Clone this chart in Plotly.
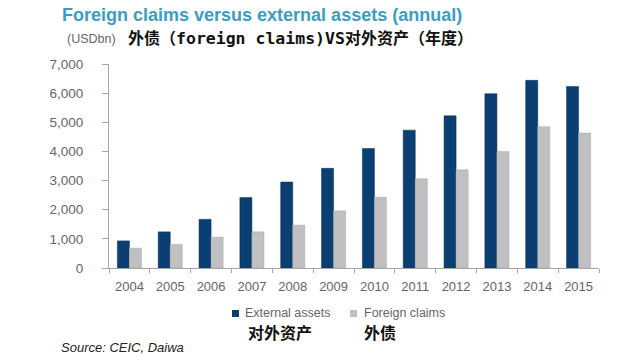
import plotly.graph_objects as go

years = ["2004", "2005", "2006", "2007", "2008", "2009", "2010", "2011", "2012", "2013", "2014", "2015"]
external_assets = [930, 1240, 1670, 2420, 2950, 3420, 4100, 4730, 5220, 5980, 6440, 6230]
foreign_claims = [680, 810, 1060, 1240, 1470, 1960, 2430, 3060, 3370, 4000, 4850, 4630]
y_ticks = [0, 1000, 2000, 3000, 4000, 5000, 6000, 7000]
series_names = ["External assets", "Foreign claims"]
series_names_cn = ["对外资产", "外债"]

FW, FH = 640, 362
L, R, T, B = 109, 599, 64, 268
W, H = R - L, B - T


def px(x):
    return (x - L) / W


def py(y):
    return (B - y) / H


BLUE = "#0B3E71"
GRAY = "#C0C0C2"
TICK = "#666666"
AXIS = "#A6A6A6"

fig = go.Figure()
fig.add_trace(go.Bar(x=years, y=external_assets, name=series_names[0],
                     marker=dict(color=BLUE, line=dict(color="#06305A", width=0.5))))
fig.add_trace(go.Bar(x=years, y=foreign_claims, name=series_names[1],
                     marker=dict(color=GRAY, line=dict(color="#A8A8AA", width=0.5))))

fig.update_layout(
    width=FW, height=FH,
    margin=dict(l=L, r=FW - R, t=T, b=FH - B, autoexpand=False),
    paper_bgcolor="white", plot_bgcolor="white",
    barmode="group", bargap=0.41, bargroupgap=0.0,
    font=dict(family="Liberation Sans, Arial, sans-serif", color=TICK, size=13),
    showlegend=False,
    xaxis=dict(showgrid=False, showline=True, linecolor=AXIS, linewidth=1,
               ticks="outside", tickson="boundaries", ticklen=4, tickcolor=AXIS,
               ticklabelstandoff=6, tickfont=dict(size=13, color=TICK)),
    yaxis=dict(range=[0, 7000], tickvals=y_ticks, tickformat=",", showgrid=False,
               showline=True, linecolor=AXIS, linewidth=1, ticks="outside",
               ticklen=6, tickcolor=AXIS, zeroline=False, ticklabelstandoff=16,
               tickfont=dict(size=13.5, color=TICK)),
)

CN_FONT = "Noto Sans CJK SC"
subtitle = ("<b>外债（</b><b><span style=\"font-family:'DejaVu Sans Mono';font-size:16.5px\">"
            "foreign claims)VS</span></b><b>对外资产（年度）</b>")
annotations = [
    dict(text="<b>Foreign claims versus external assets (annual)</b>", x=px(60), y=py(15),
         xanchor="left", yanchor="middle",
         font=dict(size=18, color="#3C9DC2", family="Liberation Sans, Arial, sans-serif")),
    dict(text="(USDbn)", x=px(65), y=py(38.5), xanchor="left", yanchor="middle",
         font=dict(size=12.5, color=TICK)),
    dict(text=subtitle, x=px(126), y=py(36.5), xanchor="left", yanchor="middle",
         font=dict(size=16, color="#111111", family=CN_FONT)),
    dict(text=series_names[0], x=px(243), y=py(313), xanchor="left", yanchor="middle",
         font=dict(size=12.5, color=TICK)),
    dict(text=series_names[1], x=px(362), y=py(313), xanchor="left", yanchor="middle",
         font=dict(size=12.5, color=TICK)),
    dict(text="<b>" + series_names_cn[0] + "</b>", x=px(246), y=py(332), xanchor="left",
         yanchor="middle", font=dict(size=16, color="#111111", family=CN_FONT)),
    dict(text="<b>" + series_names_cn[1] + "</b>", x=px(362), y=py(332), xanchor="left",
         yanchor="middle", font=dict(size=16, color="#111111", family=CN_FONT)),
    dict(text="<i>Source: CEIC, Daiwa</i>", x=px(59), y=py(347), xanchor="left", yanchor="middle",
         font=dict(size=13, color="#222222")),
]
for a in annotations:
    a.update(xref="paper", yref="paper", showarrow=False)

shapes = [
    dict(type="rect", xref="paper", yref="paper", x0=px(232), x1=px(239), y0=py(317), y1=py(310),
         fillcolor=BLUE, line=dict(width=0)),
    dict(type="rect", xref="paper", yref="paper", x0=px(350), x1=px(357), y0=py(317), y1=py(310),
         fillcolor=GRAY, line=dict(width=0)),
]
fig.update_layout(annotations=annotations, shapes=shapes)

# remove the default 8px page margin so the figure fills the 640x362 window exactly
fig.write_html("out.html", config={"displayModeBar": False},
               post_script="document.body.style.margin='0px';"
                           "document.body.style.overflow='hidden';")
